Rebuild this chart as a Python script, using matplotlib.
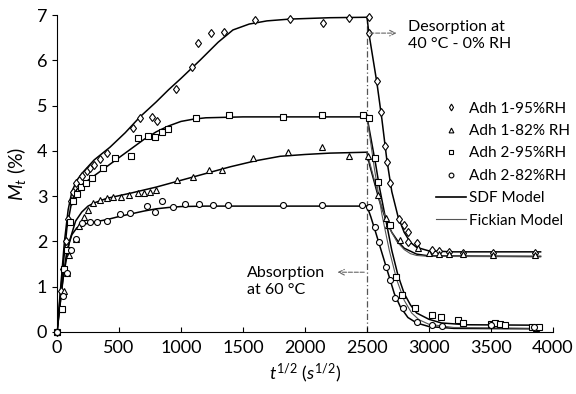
import matplotlib
matplotlib.use('Agg')
import matplotlib.pyplot as plt
from matplotlib.lines import Line2D

plt.rcParams['font.family'] = ['Lato', 'DejaVu Sans']
plt.rcParams['mathtext.fontset'] = 'custom'
plt.rcParams['mathtext.it'] = 'Lato:italic'
plt.rcParams['mathtext.rm'] = 'Lato'

# measured points (x = t^1/2, y = Mt %)
adh1_95_x = [0, 30, 50, 70, 90, 110, 130, 150, 200, 240, 270, 300, 350, 400, 612, 669, 766, 806, 959,
             1088, 1136, 1241, 1346, 1596, 1878, 2144, 2354, 2515,
             2515, 2579, 2611, 2644, 2660, 2684, 2757, 2797, 2829, 2829, 2902, 3022, 3079, 3160, 3272, 3514, 3853]
adh1_95_y = [0, 0.9, 1.4, 2.0, 2.5, 2.9, 3.1, 3.3, 3.45, 3.55, 3.62, 3.68, 3.82, 3.95, 4.5, 4.72, 4.74, 4.66, 5.36,
             5.85, 6.38, 6.6, 6.62, 6.89, 6.91, 6.82, 6.93, 6.95,
             6.6, 5.54, 4.86, 4.11, 3.75, 3.29, 2.49, 2.36, 2.2, 1.99, 1.96, 1.81, 1.79, 1.77, 1.74, 1.74, 1.74]

adh1_82_x = [0, 40, 60, 80, 100, 150, 180, 220, 250, 290, 347, 403, 450, 520, 580, 650, 700, 750, 800,
             967, 1096, 1225, 1330, 1580, 1863, 2136, 2354, 2507,
             2587, 2652, 2668, 2765, 2910, 3000, 3079, 3160, 3272, 3514, 3853]
adh1_82_y = [0, 0.5, 0.9, 1.3, 1.7, 2.05, 2.35, 2.55, 2.7, 2.84, 2.91, 2.97, 2.99, 2.98, 3.02, 3.07, 3.08, 3.1, 3.13,
             3.36, 3.43, 3.58, 3.58, 3.84, 3.97, 4.09, 3.89, 3.89,
             3.02, 2.52, 2.36, 2.03, 1.85, 1.75, 1.72, 1.72, 1.72, 1.7, 1.7]

adh2_95_x = [0, 40, 60, 80, 105, 130, 160, 190, 230, 280, 371, 467, 596, 653, 733, 790, 846, 895,
             1120, 1386, 1822, 2136, 2466, 2515,
             2563, 2587, 2684, 2732, 2781, 2886, 3022, 3095, 3232, 3272, 3500, 3530, 3570, 3610, 3830, 3860, 3890]
adh2_95_y = [0, 0.5, 1.4, 1.8, 2.43, 2.9, 3.05, 3.2, 3.3, 3.4, 3.62, 3.84, 3.89, 4.28, 4.33, 4.31, 4.41, 4.48,
             4.72, 4.79, 4.75, 4.79, 4.79, 4.72,
             3.84, 3.31, 2.36, 1.21, 0.82, 0.53, 0.38, 0.33, 0.26, 0.2, 0.18, 0.2, 0.18, 0.15, 0.1, 0.08, 0.1]

adh2_82_x = [0, 50, 80, 110, 150, 200, 266, 322, 403, 508, 588, 725, 790, 846, 935, 1032, 1145, 1258, 1378,
             1822, 2136, 2458, 2515,
             2563, 2595, 2652, 2684, 2724, 2789, 2902, 3022, 3103, 3500, 3850]
adh2_82_y = [0, 0.8, 1.3, 1.8, 2.05, 2.41, 2.43, 2.43, 2.45, 2.6, 2.62, 2.78, 2.65, 2.89, 2.76, 2.83, 2.83, 2.8, 2.8,
             2.8, 2.8, 2.8, 2.76,
             2.32, 1.99, 1.43, 1.15, 0.75, 0.53, 0.22, 0.15, 0.13, 0.15, 0.1]

# SDF model curves
sdf1_95_x = [0, 30, 60, 90, 120, 160, 200, 300, 427, 550, 669, 800, 900, 1000, 1153, 1300, 1419, 1550, 1693, 1878,
             2200, 2500, 2515, 2580, 2620, 2660, 2700, 2750, 2800, 2850, 2900, 3000, 3200, 3900]
sdf1_95_y = [0, 1.0, 2.0, 2.7, 3.1, 3.35, 3.5, 3.8, 4.08, 4.4, 4.75, 5.08, 5.35, 5.6, 6.0, 6.4, 6.67, 6.8, 6.87, 6.91,
             6.94, 6.95, 6.6, 5.5, 4.7, 3.8, 3.1, 2.55, 2.2, 1.98, 1.87, 1.79, 1.77, 1.77]

sdf1_82_x = [0, 50, 100, 150, 200, 250, 300, 400, 600, 800, 1000, 1200, 1400, 1600, 1800, 2000, 2200, 2500,
             2520, 2560, 2600, 2650, 2700, 2750, 2800, 2900, 3000, 3900]
sdf1_82_y = [0, 1.2, 2.0, 2.45, 2.65, 2.78, 2.85, 2.95, 3.07, 3.2, 3.35, 3.5, 3.65, 3.78, 3.88, 3.92, 3.95, 3.97,
             3.7, 3.3, 2.9, 2.5, 2.2, 2.0, 1.85, 1.72, 1.68, 1.67]

sdf2_95_x = [0, 40, 80, 120, 160, 200, 300, 400, 500, 600, 700, 800, 900, 1000, 1100, 1200, 1500, 2500,
             2530, 2570, 2600, 2650, 2700, 2750, 2800, 2850, 2900, 3000, 3100, 3300, 3900]
sdf2_95_y = [0, 1.2, 2.3, 2.9, 3.15, 3.25, 3.45, 3.65, 3.85, 4.05, 4.25, 4.42, 4.55, 4.65, 4.7, 4.73, 4.75, 4.75,
             4.3, 3.7, 3.2, 2.5, 1.8, 1.25, 0.85, 0.6, 0.42, 0.28, 0.2, 0.16, 0.15]

sdf2_82_x = [0, 40, 80, 120, 160, 200, 300, 400, 500, 600, 700, 800, 900, 1000, 1200, 2500,
             2530, 2570, 2620, 2670, 2720, 2770, 2830, 2900, 3000, 3200, 3900]
sdf2_82_y = [0, 1.0, 1.8, 2.15, 2.3, 2.37, 2.43, 2.48, 2.55, 2.61, 2.67, 2.72, 2.75, 2.77, 2.78, 2.78,
             2.55, 2.2, 1.75, 1.3, 0.85, 0.55, 0.32, 0.2, 0.12, 0.08, 0.07]

# Fickian model (desorption, only visible where it separates from SDF)
fick1_x = [2500, 2560, 2620, 2680, 2740, 2800, 2850, 2900, 3000, 3900]
fick1_y = [3.97, 3.35, 2.75, 2.3, 2.0, 1.82, 1.73, 1.69, 1.67, 1.66]
fick2_x = [2500, 2560, 2620, 2680, 2740, 2800, 2860, 2920, 3000, 3200, 3900]
fick2_y = [4.75, 3.6, 2.6, 1.8, 1.15, 0.7, 0.42, 0.27, 0.17, 0.1, 0.08]

fig = plt.figure(figsize=(5.76, 3.94), dpi=100)
ax = fig.add_axes([57/576, 1 - 332/394, (553 - 57)/576, (332 - 15)/394])

mk = dict(linestyle='none', mfc='white', mec='black', mew=0.8, clip_on=False, zorder=3)
ax.plot(adh1_95_x, adh1_95_y, marker='d', ms=4.3, label='Adh 1-95%RH', **mk)
ax.plot(adh1_82_x, adh1_82_y, marker='^', ms=4.3, label='Adh 1-82% RH', **mk)
ax.plot(adh2_95_x, adh2_95_y, marker='s', ms=4.3, label='Adh 2-95%RH', **mk)
ax.plot(adh2_82_x, adh2_82_y, marker='o', ms=4.3, label='Adh 2-82%RH', **mk)

for xs, ys in [(sdf1_95_x, sdf1_95_y), (sdf1_82_x, sdf1_82_y), (sdf2_95_x, sdf2_95_y), (sdf2_82_x, sdf2_82_y)]:
    ax.plot(xs, ys, color='black', lw=1.1, zorder=2)
for xs, ys in [(fick1_x, fick1_y), (fick2_x, fick2_y)]:
    ax.plot(xs, ys, color='#555555', lw=0.8, zorder=2)

ax.plot([2500, 2500], [0, 7], color='#555555', lw=0.9, linestyle=(0, (5, 2, 1, 2)), zorder=1)

ax.annotate('', xy=(2760, 6.6), xytext=(2500, 6.6),
            arrowprops=dict(arrowstyle='->', color='#666666', lw=0.8, linestyle='--'))
ax.text(2830, 6.55, 'Desorption at\n40 °C - 0% RH', fontsize=11.5, va='center', ha='left', linespacing=1.3)
ax.annotate('', xy=(2240, 1.32), xytext=(2500, 1.32),
            arrowprops=dict(arrowstyle='->', color='#666666', lw=0.8, linestyle='--'))
ax.text(1530, 1.12, 'Absorption\nat 60 °C', fontsize=11.5, va='center', ha='left', linespacing=1.3)

ax.set_xlim(0, 4000)
ax.set_ylim(0, 7)
ax.set_xticks(range(0, 4001, 500))
ax.set_yticks(range(0, 8))
ax.spines['top'].set_visible(False)
ax.spines['right'].set_visible(False)
ax.tick_params(axis='x', direction='in', labelsize=13, pad=6)
ax.tick_params(axis='y', direction='out', labelsize=13)
ax.set_xlabel('$t^{1/2}$ $(s^{1/2})$', fontsize=13)
ax.set_ylabel('$M_t$ (%)', fontsize=14, labelpad=6)

handles, labels = ax.get_legend_handles_labels()
handles += [Line2D([], [], color='black', lw=1.2), Line2D([], [], color='#555555', lw=0.8)]
labels += ['SDF Model', 'Fickian Model']
fig.legend(handles, labels, loc='upper left', bbox_to_anchor=(428/576, 1 - 94/394), frameon=False,
           fontsize=11, borderpad=0, handlelength=2.0, handletextpad=0.2, labelspacing=0.55,
           markerscale=0.8)

fig.savefig('out.png', dpi=100)
